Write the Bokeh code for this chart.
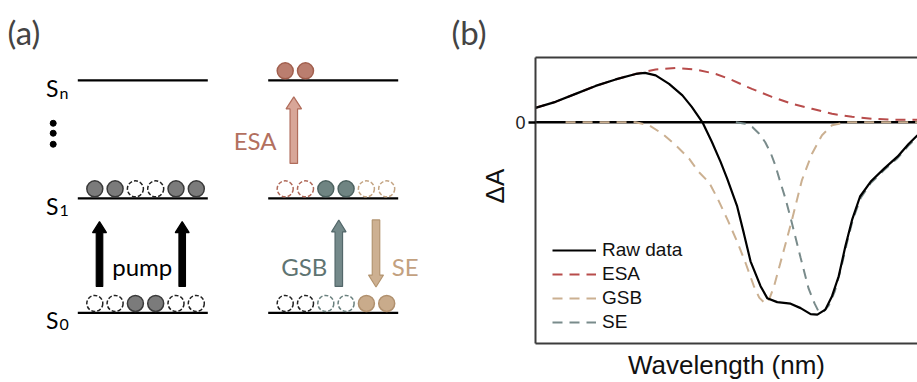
from bokeh.core.properties import value
from bokeh.embed import file_html
from bokeh.layouts import row
from bokeh.models import (FixedTicker, Legend, LegendItem, LinearAxis,
                          Range1d, Span)
from bokeh.plotting import figure
from bokeh.resources import INLINE

# ---------------------------------------------------------------------------
# Panel (b): transient-absorption spectrum and its three components
# (wavelength in nm, dA in arbitrary units)
# ---------------------------------------------------------------------------
raw_wl = [450, 465, 480, 495, 510, 525, 532, 540, 550, 560, 567, 575, 582,
          588.5, 593.5, 601, 606, 611, 618.5, 623.5, 631, 641, 648.5, 656,
          661, 667, 672, 677, 682, 687, 693, 701, 711, 721, 729.5, 736]
raw_dA = [0.29, 0.41, 0.57, 0.73, 0.86, 0.97, 0.99, 0.94, 0.77, 0.54, 0.31,
          0.00, -0.39, -0.79, -1.13, -1.69, -2.23, -2.79, -3.29, -3.53, -3.61,
          -3.64, -3.73, -3.85, -3.86, -3.76, -3.49, -3.09, -2.49, -1.96, -1.49,
          -1.19, -0.93, -0.69, -0.43, -0.26]

esa_wl = [450, 465, 480, 495, 510, 525, 540, 555, 570, 585, 596, 612, 627,
          642, 657, 672, 687, 702, 717, 736]
esa_dA = [0.29, 0.41, 0.57, 0.73, 0.86, 0.97, 1.06, 1.09, 1.06, 0.97, 0.86,
          0.67, 0.51, 0.37, 0.27, 0.17, 0.11, 0.07, 0.05, 0.05]

gsb_wl = [472.5, 499, 525, 535, 545, 555, 565, 572, 580, 586.5, 594, 601.5,
          607.5, 613.5, 617.5, 622, 625, 628.5, 636, 642, 649.5, 657, 664.5,
          672, 682, 736]
gsb_dA = [0, 0, 0, -0.06, -0.23, -0.46, -0.73, -0.99, -1.21, -1.54, -1.97,
          -2.43, -2.84, -3.29, -3.52, -3.64, -3.55, -3.30, -2.56, -1.96, -1.16,
          -0.63, -0.26, -0.06, 0, 0]

se_wl = [600, 607, 612.5, 617.5, 622, 626, 629.5, 633.5, 637, 641, 648.5,
         654.5, 659, 662, 665, 669.5, 674, 678.5, 683, 687.5, 693.5, 701, 711,
         721, 729.5, 736]
se_dA = [0, -0.03, -0.10, -0.23, -0.40, -0.61, -0.86, -1.22, -1.52, -1.92,
         -2.72, -3.34, -3.64, -3.80, -3.82, -3.68, -3.40, -2.96, -2.44, -1.96,
         -1.52, -1.22, -0.96, -0.72, -0.46, -0.30]

series_names = ["Raw data", "ESA", "GSB", "SE"]

# ---------------------------------------------------------------------------
# Panel (a): energy-level scheme
# ---------------------------------------------------------------------------
level_keys = ["0", "1", "n"]          # S0, S1, Sn
level_energy = [0.0, 1.0, 2.03]       # relative energies of the levels

# occupation of each level; one character per slot
#   G grey filled, o empty (black dashed)
#   R/r ESA filled/empty, T/t GSB filled/empty, Y/y SE filled/empty
left_pop = {"1": "GGooGG", "0": "ooGGoo"}
right_pop = {"n": "RR", "1": "rrTTyy", "0": "oottYY"}

ESA_C = "#b3705f"
GSB_C = "#5f7472"
SE_C = "#c3a17f"

slot_style = {
    "G": dict(fill="#7b7b7b", line="#3a3a3a", dashed=False),
    "o": dict(fill="white", line="#222222", dashed=True),
    "R": dict(fill="#ba7e6f", line="#a2604f", dashed=False),
    "r": dict(fill="white", line="#b06a5a", dashed=True),
    "T": dict(fill="#6f8482", line="#4e6361", dashed=False),
    "t": dict(fill="white", line="#6a807e", dashed=True),
    "Y": dict(fill="#c9ab8b", line="#b0906e", dashed=False),
    "y": dict(fill="white", line="#c4a584", dashed=True),
}

# both panels share the same frame top/bottom so the row lines up
BORDER_TOP = 57
BORDER_BOTTOM = 38

# geometry of the scheme (x in px, energies scaled by PX_PER_E)
PX_PER_E = 115.0
E_BOTTOM = -0.267
E_TOP = 2.229
col_x0 = {"left": 77.3, "right": 267.7}
LEVEL_LEN = 130.0
SLOT0 = 17.0
SLOT_DX = 20.3
SLOT_LIFT = 9.5
CIRCLE_D = 16


def e_of(key):
    return level_energy[level_keys.index(key)]


def px(dy):
    return dy / PX_PER_E


def panel_title(p, text, offset):
    p.title.text = text
    p.title.align = "left"
    p.title.offset = offset
    p.title.text_font = "Lato"
    p.title.text_font_size = "33px"
    p.title.text_font_style = "normal"
    p.title.standoff = 12


pa = figure(width=440, height=382, x_range=Range1d(0, 440),
            y_range=Range1d(E_BOTTOM, E_TOP), x_axis_type=None,
            y_axis_type=None, toolbar_location=None, output_backend="svg",
            min_border_left=0, min_border_right=0,
            min_border_top=BORDER_TOP, min_border_bottom=BORDER_BOTTOM)
pa.outline_line_color = None
panel_title(pa, "(a)", 7)

# level lines
for col, x0 in col_x0.items():
    xs0, xs1, ys = [], [], []
    for e in level_energy:
        xs0.append(x0)
        xs1.append(x0 + LEVEL_LEN)
        ys.append(e)
    pa.segment(x0=xs0, y0=ys, x1=xs1, y1=ys, line_color="black", line_width=2.2)

# occupation circles, grouped by style
groups = {}
for col, pop in (("left", left_pop), ("right", right_pop)):
    for key, slots in pop.items():
        for i, code in enumerate(slots):
            groups.setdefault(code, ([], []))
            groups[code][0].append(col_x0[col] + SLOT0 + i * SLOT_DX)
            groups[code][1].append(e_of(key) + px(SLOT_LIFT))
for code, (xs, ys) in groups.items():
    st = slot_style[code]
    kw = dict(line_dash=value("4 2")) if st["dashed"] else {}
    pa.scatter(xs, ys, marker="circle", size=CIRCLE_D, fill_color=st["fill"],
               line_color=st["line"], line_width=1.5, **kw)

# level labels S0, S1, Sn
for key, e in zip(level_keys, level_energy):
    pa.text(x=[58], y=[e - px(7.5)], text=["S"], text_align="right",
            text_baseline="alphabetic", text_font=value("Lato"),
            text_font_size="23px", text_color="black")
    pa.text(x=[59], y=[e - px(12)], text=[key], text_align="left",
            text_baseline="alphabetic", text_font=value("Lato"),
            text_font_size="16px", text_color="black")

# vertical ellipsis between S1 and Sn
dots_e = [1.472, 1.568, 1.655]
pa.scatter([52.7] * 3, dots_e, marker="circle", size=6, fill_color="black",
           line_color="black")


def arrow_patch(x, e_tail, e_tip, shaft_w, head_w, head_len):
    d = 1 if e_tip > e_tail else -1
    neck = e_tip - d * px(head_len)
    s, h = shaft_w / 2, head_w / 2
    xs = [x - s, x - s, x - h, x, x + h, x + s, x + s]
    ys = [e_tail, neck, neck, e_tip, neck, neck, e_tail]
    return xs, ys


e0, e1, en = e_of("0"), e_of("1"), e_of("n")
lx, rx = col_x0["left"], col_x0["right"]
arrows = [
    # x, tail, tip, shaft, head, head length, fill, outline
    (lx + 21.7, e0 + px(26.6), e1 - px(23.4), 6.5, 14, 11, "black", "black"),
    (lx + 104.4, e0 + px(26.6), e1 - px(23.4), 6.5, 14, 11, "black", "black"),
    (rx + 25.6, e1 + px(35), en - px(16.7), 7.5, 15.5, 12, "#d8a698", "#b06c5b"),
    (rx + 70.6, e0 + px(26.6), e1 - px(21.7), 7.5, 14.5, 12, "#74898a", "#53676a"),
    (rx + 107.8, e1 - px(21.7), e0 + px(26), 7.5, 15, 12, "#cdb091", "#b39470"),
]
for x, et, ep, sw, hw, hl, fc, lc in arrows:
    xs, ys = arrow_patch(x, et, ep, sw, hw, hl)
    pa.patch(xs, ys, fill_color=fc, line_color=lc, line_width=1.2)

scheme_text = [
    ("pump", lx + 64.4, e0 + px(47), "center", "black"),
    ("ESA", rx + 8.3, e1 + px(58.3), "right", ESA_C),
    ("GSB", rx + 59, e0 + px(47), "right", GSB_C),
    ("SE", rx + 123.5, e0 + px(47), "left", SE_C),
]
for t, x, y, align, c in scheme_text:
    pa.text(x=[x], y=[y], text=[t], text_align=align, text_baseline="alphabetic",
            text_font=value("Lato"), text_font_size="24px", text_color=c)

# ---------------------------------------------------------------------------
# Panel (b) figure
# ---------------------------------------------------------------------------
pb = figure(width=477, height=382, x_range=Range1d(450, 736),
            y_range=Range1d(-4.44, 1.30), x_axis_type=None, y_axis_type=None,
            toolbar_location=None, output_backend="svg",
            min_border_left=95, min_border_right=0,
            min_border_top=BORDER_TOP, min_border_bottom=BORDER_BOTTOM)
pb.outline_line_color = None
panel_title(pb, "(b)", -84)

FRAME_C = "#3c3c3c"
AX_FONT = "Liberation Sans"
yax = LinearAxis(ticker=FixedTicker(ticks=[0]), major_tick_out=7,
                 major_tick_in=0, minor_tick_out=0, minor_tick_in=0,
                 axis_line_color=FRAME_C, axis_line_width=2,
                 major_tick_line_color="black", major_tick_line_width=2.5,
                 major_label_text_font=AX_FONT,
                 major_label_text_font_size="18px",
                 major_label_text_color="#222222", major_label_standoff=3,
                 axis_label="\u00a0\u00a0\u00a0\u00a0ΔA", axis_label_standoff=2,
                 axis_label_text_font=AX_FONT, axis_label_text_font_size="26px",
                 axis_label_text_font_style="normal",
                 axis_label_text_color="#111111")
pb.add_layout(yax, "left")

xax = LinearAxis(ticker=FixedTicker(ticks=[]), major_tick_out=0,
                 major_tick_in=0, minor_tick_out=0, minor_tick_in=0,
                 axis_line_color=FRAME_C, axis_line_width=2,
                 axis_label="Wavelength (nm)", axis_label_standoff=6,
                 axis_label_text_font=AX_FONT, axis_label_text_font_size="26px",
                 axis_label_text_font_style="normal",
                 axis_label_text_color="#111111")
pb.add_layout(xax, "below")

top_ax = LinearAxis(ticker=FixedTicker(ticks=[]), major_tick_out=0,
                    major_tick_in=0, minor_tick_out=0, minor_tick_in=0,
                    axis_line_color=FRAME_C, axis_line_width=2)
pb.add_layout(top_ax, "above")

pb.add_layout(Span(location=0, dimension="width", line_color="black",
                   line_width=2.5, level="underlay"))

DASH = "10 7"
r_esa = pb.line(esa_wl, esa_dA, line_color="#b84c4b", line_width=2, line_dash=DASH)
r_gsb = pb.line(gsb_wl, gsb_dA, line_color="#cbb091", line_width=2, line_dash=DASH)
r_se = pb.line(se_wl, se_dA, line_color="#798b8b", line_width=2, line_dash=DASH)
r_raw = pb.line(raw_wl, raw_dA, line_color="black", line_width=2.2)

legend = Legend(
    items=[LegendItem(label=n, renderers=[r])
           for n, r in zip(series_names, [r_raw, r_esa, r_gsb, r_se])],
    location=(17, 9), orientation="vertical", glyph_width=44, glyph_height=24,
    label_height=24, label_standoff=6, spacing=0, padding=0, margin=0,
    border_line_color=None, background_fill_alpha=0,
    label_text_font=AX_FONT, label_text_font_size="19px",
    label_text_color="#111111")
pb.add_layout(legend)

layout = row(pa, pb, spacing=0)
open("out.html", "w").write(file_html(layout, INLINE))
